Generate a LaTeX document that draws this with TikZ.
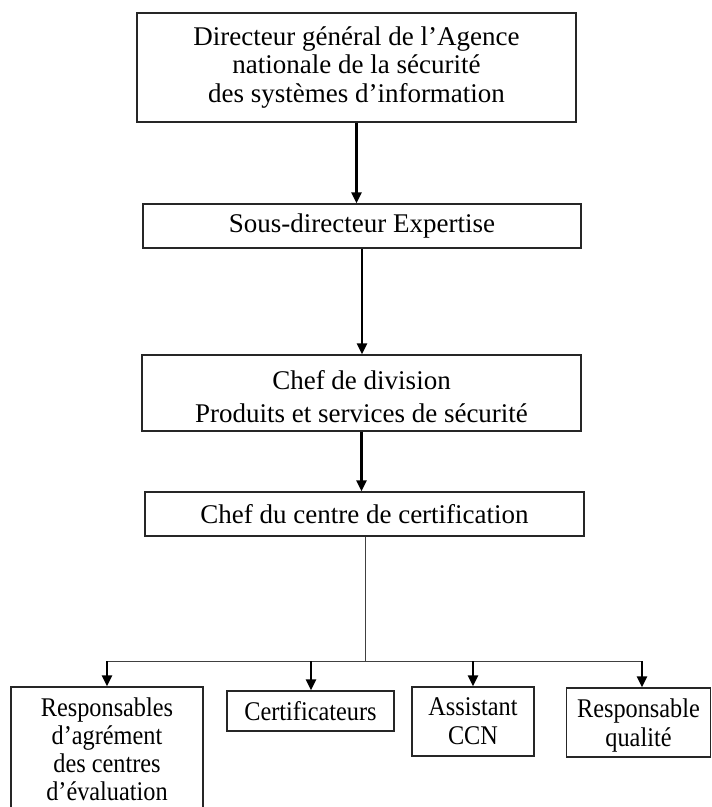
\documentclass[tikz,border=0pt]{standalone}
\usepackage{fontspec}
\setmainfont{Liberation Serif}
\newfontfamily\narrowfont[FakeStretch=0.9]{Liberation Serif}
\usetikzlibrary{arrows.meta}
\begin{document}
\begin{tikzpicture}[x=1pt,y=-1pt,
  box/.style={draw=black!85, line width=1.2pt, inner sep=0pt, align=center,
    font=\fontsize{27}{28.5}\selectfont},
  lowbox/.style={box, font=\narrowfont\fontsize{27}{29}\selectfont},
  arr/.style={draw=black, line width=2.2pt, -{Triangle[length=11pt,width=10pt]}},
  bus/.style={draw=black!75, line width=1pt}]
\useasboundingbox (0,0) rectangle (712,807);
\clip (0,0) rectangle (712,807);

\node[box, minimum width=439pt, minimum height=109pt] (b1) at (356.5,67.5)
  {Directeur général de l’Agence\\nationale de la sécurité\\des systèmes d’information};
\node[box, minimum width=438pt, minimum height=44pt] (b2) at (362,226)
  {Sous-directeur Expertise};
\node[box, minimum width=439pt, minimum height=76pt, font=\fontsize{27}{33}\selectfont] (b3) at (361.5,393)
  {\rule{0pt}{26.4pt}Chef de division\\Produits et services de sécurité};
\node[box, minimum width=439pt, minimum height=44pt] (b4) at (364.5,514)
  {Chef du centre de certification};

\node[box, font=\narrowfont\fontsize{27}{28}\selectfont, minimum width=192pt, minimum height=124pt] (c1) at (107,749)
  {Responsables\\d’agrément\\des centres\\d’évaluation};
\node[lowbox, minimum width=167pt, minimum height=40pt] (c2) at (310.5,711)
  {Certificateurs};
\node[lowbox, minimum width=122pt, minimum height=69pt] (c3) at (473,721.5)
  {Assistant\\CCN};
\node[lowbox, minimum width=144pt, minimum height=69pt] (c4) at (638.5,722.5)
  {\rule{0pt}{24.4pt}Responsable\\qualité};

\draw[arr] (b1.south) -- (b1.south |- b2.north);
\draw[arr] (b2.south) -- (b2.south |- b3.north);
\draw[arr] (b3.south) -- (b3.south |- b4.north);

\coordinate (jn) at (365,661);
\coordinate (bl) at (107,661);
\coordinate (br) at (642,661);
\draw[bus] (b4.south -| jn) -- (jn);
\draw[bus] (bl) -- (br);
\draw[arr] (bl) -- (bl |- c1.north);
\draw[arr] (311,661) -- (311,661 |- c2.north);
\draw[arr] (473,661) -- (473,661 |- c3.north);
\draw[arr] (br) -- (br |- c4.north);
\end{tikzpicture}
\end{document}
